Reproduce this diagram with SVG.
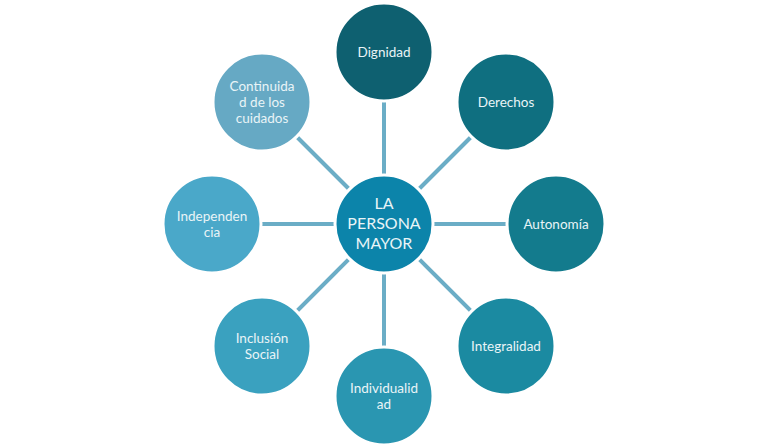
<svg xmlns="http://www.w3.org/2000/svg" width="768" height="448" viewBox="0 0 768 448">
<style>
.bg{fill:#ffffff}
.conn line{stroke:#6badc6;stroke-width:4}
.node circle{stroke:#ffffff;stroke-width:3}
.node text{font-family:Lato,"Open Sans","Liberation Sans",sans-serif;font-size:13.5px;fill:#e9f4f7;text-anchor:middle}
#center text{font-size:16px}
</style>
<rect class="bg" x="0" y="0" width="768" height="448"/>
<g id="connectors" class="conn">
<line x1="384" y1="224" x2="384" y2="52"/>
<line x1="384" y1="224" x2="506" y2="102"/>
<line x1="384" y1="224" x2="556" y2="224"/>
<line x1="384" y1="224" x2="506" y2="346"/>
<line x1="384" y1="224" x2="384" y2="396"/>
<line x1="384" y1="224" x2="262" y2="346"/>
<line x1="384" y1="224" x2="212" y2="224"/>
<line x1="384" y1="224" x2="262" y2="102"/>
</g>
<g id="center" class="node">
<circle cx="384" cy="224" r="49" fill="#0c84aa"/>
<text x="384" y="209">LA</text>
<text x="384" y="229">PERSONA</text>
<text x="384" y="249">MAYOR</text>
</g>
<g id="dignidad" class="node">
<circle cx="384" cy="52" r="49" fill="#0e6070"/>
<text x="384" y="57">Dignidad</text>
</g>
<g id="derechos" class="node">
<circle cx="506" cy="102" r="49" fill="#0f6f80"/>
<text x="506" y="107">Derechos</text>
</g>
<g id="autonomia" class="node">
<circle cx="556" cy="224" r="49" fill="#137b8d"/>
<text x="556" y="229">Autonomía</text>
</g>
<g id="integralidad" class="node">
<circle cx="506" cy="346" r="49" fill="#1b8aa1"/>
<text x="506" y="351">Integralidad</text>
</g>
<g id="individualidad" class="node">
<circle cx="384" cy="396" r="49" fill="#2a96b1"/>
<text x="384" y="393">Individualid</text>
<text x="384" y="409">ad</text>
</g>
<g id="inclusion" class="node">
<circle cx="262" cy="346" r="49" fill="#3aa1bf"/>
<text x="262" y="343">Inclusión</text>
<text x="262" y="359">Social</text>
</g>
<g id="independencia" class="node">
<circle cx="212" cy="224" r="49" fill="#4aa8c9"/>
<text x="212" y="221">Independen</text>
<text x="212" y="237">cia</text>
</g>
<g id="continuidad" class="node">
<circle cx="262" cy="102" r="49" fill="#66a9c4"/>
<text x="262" y="91">Continuida</text>
<text x="262" y="107">d de los</text>
<text x="262" y="123">cuidados</text>
</g>
</svg>
